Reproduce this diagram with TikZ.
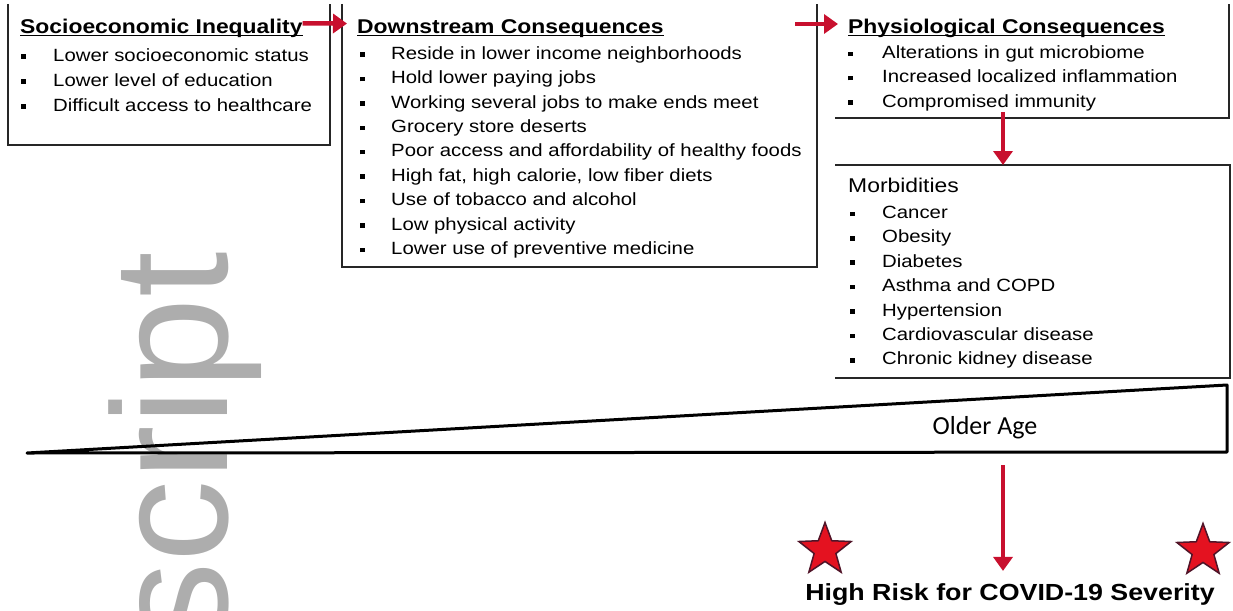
\documentclass[tikz,border=0pt]{standalone}
\usepackage{fontspec}
\setmainfont{Liberation Sans}[FakeStretch=1.15]
\newfontfamily\agefont{Carlito}
\newfontfamily\markfont{Liberation Sans}
\usetikzlibrary{arrows.meta,shapes.geometric}
\definecolor{riskred}{RGB}{200,16,46}
\definecolor{starred}{RGB}{228,18,32}
\definecolor{stardark}{RGB}{80,20,40}
\newcommand\bul{\rule[2.4pt]{4.5pt}{4.5pt}}
\newcommand\headline[1]{\setbox0\hbox{#1}\rlap{\rule[-2.8pt]{\wd0}{1.4pt}}\box0}

\begin{document}
\begin{tikzpicture}[x=1pt,y=-1pt,
  itemfont/.style={font=\fontsize{17.7}{24.4}\selectfont},
  headfont/.style={font=\fontsize{19.9}{24.4}\selectfont\bfseries},
  txt/.style={inner sep=0pt,anchor=base west},
  border/.style={line width=2pt,draw=black!85},
  redarrow/.style={-{Triangle[width=19pt,length=14pt]},line width=4.5pt,draw=riskred},
  starmark/.style={star,star points=5,star point ratio=2.4,minimum size=55pt,
    inner sep=0pt,fill=starred,draw=stardark,line width=1.5pt}]
    \useasboundingbox (0,0) rectangle (1233,610);
    \clip (0,0) rectangle (1233,610);

    % watermark
    \node[inner sep=0pt,anchor=base east,rotate=90,text=black!32,
      font=\markfont\fontsize{164}{164}\selectfont] (mark) at (227,252) {script};

    % box borders (open at top)
    \draw[border] (8,4) -- (8,145) -- (330,145) -- (330,4);
    \draw[border] (342,4) -- (342,267) -- (817,267) -- (817,4);
    \draw[border] (835,118) -- (1229,118) -- (1229,4);
    \draw[border] (835,165) -- (1230,165) -- (1230,378) -- (835,378);

    % headings
    \node[txt,headfont] (socioT) at (20,33.5) {\headline{Socioeconomic Inequality}};
    \node[txt,headfont] (downT) at (357,33.5) {\headline{Downstream Consequences}};
    \node[txt,headfont] (physioT) at (848,33.5) {\headline{Physiological Consequences}};
    \node[txt,font=\fontsize{19.9}{24.4}\selectfont] (morbT) at (848,192) {Morbidities};

    % lists
    \node[txt,font=\fontsize{17.7}{25}\selectfont] (socioL) at (21,61) {\begin{tabular}[t]{@{}p{32pt}@{}l@{}}
      \bul & Lower socioeconomic status\\
      \bul & Lower level of education\\
      \bul & Difficult access to healthcare
    \end{tabular}};
    \node[txt,itemfont] (downL) at (360,59.3) {\begin{tabular}[t]{@{}p{31pt}@{}l@{}}
      \bul & Reside in lower income neighborhoods\\
      \bul & Hold lower paying jobs\\
      \bul & Working several jobs to make ends meet\\
      \bul & Grocery store deserts\\
      \bul & Poor access and affordability of healthy foods\\
      \bul & High fat, high calorie, low fiber diets\\
      \bul & Use of tobacco and alcohol\\
      \bul & Low physical activity\\
      \bul & Lower use of preventive medicine
    \end{tabular}};
    \node[txt,itemfont] (physioL) at (848,58.5) {\begin{tabular}[t]{@{}p{34pt}@{}l@{}}
      \bul & Alterations in gut microbiome\\
      \bul & Increased localized inflammation\\
      \bul & Compromised immunity
    \end{tabular}};
    \node[txt,itemfont] (morbL) at (850,218.5) {\begin{tabular}[t]{@{}p{32pt}@{}l@{}}
      \bul & Cancer\\
      \bul & Obesity\\
      \bul & Diabetes\\
      \bul & Asthma and COPD\\
      \bul & Hypertension\\
      \bul & Cardiovascular disease\\
      \bul & Chronic kidney disease
    \end{tabular}};

    % age wedge
    \draw[line width=3pt,line join=round] (27,453) coordinate (ageTip)
      -- (1227,385) coordinate (ageTop) -- (1227,452) -- cycle;
    \node[font=\agefont\fontsize{26}{26}\selectfont] (age) at (985,428) {Older Age};

    % outcome
    \node[anchor=base,font=\fontsize{23.3}{24}\selectfont\bfseries,inner sep=2pt]
      (risk) at (1010,600) {High Risk for COVID-19 Severity};
    \node[starmark] (starL) at (825,550) {};
    \node[starmark] (starR) at (1203,551) {};

    % arrows
    \coordinate (downE) at (795,24);
    \coordinate (physioS) at (1003,112);
    \coordinate (morbN) at (1003,165);
    \coordinate (ageS) at (1003,465);
    \draw[redarrow,shorten >=10pt] ([yshift=5pt]socioT.east) -- ([yshift=5pt]downT.west);
    \draw[redarrow,shorten >=10pt] (downE) -- (downE -| physioT.west);
    \draw[redarrow] (physioS) -- (morbN);
    \draw[redarrow,shorten >=10pt] (ageS) -- (ageS |- risk.north);
\end{tikzpicture}
\end{document}
